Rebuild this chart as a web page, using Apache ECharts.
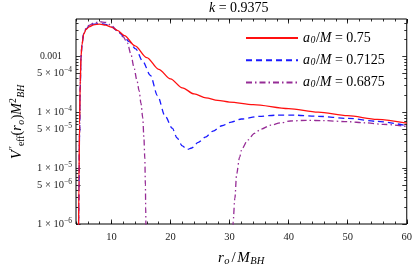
<!DOCTYPE html>
<html><head><meta charset="utf-8">
<script src="https://cdn.jsdelivr.net/npm/echarts@6/dist/echarts.min.js"></script>
<style>html,body{margin:0;padding:0;background:#fff}#c{width:415px;height:272px}</style>
</head><body><div id="c"></div>
<script>
// ---------- data ----------
const seriesNames = ['a0/M = 0.75', 'a0/M = 0.7125', 'a0/M = 0.6875'];
const legendValues = ['0.75', '0.7125', '0.6875'];
const seriesColors = ['#ff1010', '#1a1aff', '#962c96'];

const redData = [
  [4.42, 5e-7], [4.5, 6e-6], [4.6, 6e-5], [4.7, 3e-4], [4.85, 1.0e-3], [5.0, 1.6e-3],
  [5.3, 2.5e-3], [5.7, 3.05e-3], [6.2, 3.4e-3], [7, 3.7e-3], [8, 3.8e-3], [9, 3.65e-3],
  [10, 3.35e-3], [11, 2.95e-3], [12.2, 2.37e-3], [14, 1.55e-3], [16, 9.55e-4], [18, 5.9e-4],
  [20, 3.98e-4], [22, 2.75e-4], [24, 2.14e-4], [26, 1.82e-4], [28, 1.64e-4], [30, 1.53e-4],
  [34, 1.38e-4], [40, 1.17e-4], [45, 1.01e-4], [50, 8.7e-5], [55, 7.5e-5], [60, 6.4e-5]
];
const blueData = [
  [4.42, 5e-7], [4.5, 4e-6], [4.6, 4e-5], [4.7, 2.5e-4], [4.85, 9.5e-4], [5.0, 1.6e-3],
  [5.3, 2.5e-3], [5.7, 3.1e-3], [6.2, 3.5e-3], [7, 3.8e-3], [8, 3.9e-3], [9, 3.75e-3],
  [10, 3.4e-3], [11, 2.9e-3], [12, 2.35e-3], [13, 1.85e-3], [14.1, 1.37e-3], [15.3, 8.2e-4],
  [16.6, 4.6e-4], [17.8, 2.0e-4], [19.1, 8.5e-5], [20.3, 5.2e-5], [21.1, 3.5e-5], [22, 2.5e-5],
  [22.8, 2.16e-5], [23.6, 2.3e-5], [24.7, 2.9e-5], [25.9, 3.6e-5], [27.2, 4.6e-5], [28.7, 5.75e-5],
  [30.3, 6.7e-5], [32, 7.6e-5], [35, 8.5e-5], [38, 8.9e-5], [41, 8.9e-5], [45, 8.5e-5],
  [50, 7.8e-5], [55, 6.9e-5], [60, 5.75e-5]
];
const purpleData = [
  [4.42, 5e-7], [4.5, 4e-6], [4.6, 4e-5], [4.7, 2.5e-4], [4.85, 9.5e-4], [5.0, 1.6e-3],
  [5.3, 2.6e-3], [5.7, 3.2e-3], [6.2, 3.6e-3], [7, 4.0e-3], [8, 4.2e-3], [9, 4.1e-3],
  [10, 3.6e-3], [11, 2.9e-3], [12, 2.25e-3], [12.7, 1.75e-3], [13.3, 1.1e-3], [13.8, 6.5e-4],
  [14.3, 3.8e-4], [14.7, 2.4e-4], [15.0, 1.45e-4], [15.3, 8e-5], [15.5, 3.5e-5], [15.65, 1.5e-5],
  [15.75, 5e-6], [15.8, 2e-6], [15.85, 5e-7],
  [23, '-'],
  [30.55, 5e-7], [30.6, 1.1e-6], [30.9, 2.9e-6], [31.2, 8e-6], [31.7, 1.58e-5], [32.1, 2.24e-5],
  [33.1, 3.2e-5], [34.2, 4.2e-5], [35.3, 5e-5], [37, 5.9e-5], [38.7, 6.5e-5], [40.3, 7.0e-5],
  [43, 7.2e-5], [46, 7.1e-5], [50, 6.8e-5], [53, 6.5e-5], [56, 6.1e-5], [60, 5.6e-5]
];

const xRange = [4, 60];
const xTickValues = [10, 20, 30, 40, 50, 60];
const xMinorInterval = 2;
const yRange = [1e-6, 0.0047];
const yTickValues = [1e-6, 5e-6, 1e-5, 5e-5, 1e-4, 5e-4, 1e-3];
const yTickLabels = ['1 × 10{sup|−6}', '5 × 10{sup|−6}', '1 × 10{sup|−5}',
  '5 × 10{sup|−5}', '1 × 10{sup|−4}', '5 × 10{sup|−4}', '{p|0.001}'];
const yDecades = [1e-6, 1e-5, 1e-4, 1e-3];
const yMinorMultipliers = [2, 3, 4, 6, 7, 8, 9];

// ---------- helpers ----------
const FONT = "'Liberation Serif','DejaVu Serif',serif";
const L = Math.log10;
const yMinorTickValues = [];
yDecades.forEach(d => yMinorMultipliers.forEach(m => { if (d * m <= yRange[1]) yMinorTickValues.push(d * m); }));

const mathRich = (fs, lh) => ({
  i: { fontFamily: FONT, fontStyle: 'italic', fontSize: fs, lineHeight: lh, color: '#000' },
  sl: { fontFamily: FONT, fontSize: fs, lineHeight: lh, color: '#000', padding: [0, 1.5, 0, 1.5] },
  si: { fontFamily: FONT, fontStyle: 'italic', fontSize: fs * 0.7, lineHeight: fs * 0.7, verticalAlign: 'bottom', color: '#000', padding: [0, 0.5, 0, 0.5] },
  ss: { fontFamily: FONT, fontSize: fs * 0.7, lineHeight: fs * 0.7, verticalAlign: 'bottom', color: '#000' },
  sp: { fontFamily: FONT, fontSize: fs * 0.7, lineHeight: fs * 0.7, verticalAlign: 'top', color: '#000' }
});
const MFS = 14;

const tickLabelStyle = {
  fontFamily: FONT, fontSize: 10.5, color: '#222', lineHeight: 14,
  rich: {
    sup: { fontFamily: FONT, fontSize: 7.5, lineHeight: 7.5, verticalAlign: 'top', color: '#222' },
    p: { fontFamily: FONT, fontSize: 9.8, color: '#222', padding: [0, 10, 0, 0] }
  }
};

const xBase = (extra) => Object.assign({
  type: 'value', min: xRange[0], max: xRange[1],
  axisLine: { show: false }, splitLine: { show: false }
}, extra);

const yLogMin = L(yRange[0]), yLogMax = L(yRange[1]);
const yBase = (extra) => Object.assign({
  type: 'value', min: yLogMin, max: yLogMax,
  axisLine: { show: false }, splitLine: { show: false }
}, extra);

const tickStyle = { color: '#000', width: 0.8 };

function yLabelFor(v) {
  let best = 0, bd = 1e9;
  yTickValues.forEach((t, i) => { const d = Math.abs(L(t) - v); if (d < bd) { bd = d; best = i; } });
  return yTickLabels[best];
}

const lineTypes = ['solid', [6, 4], [6, 3, 1.5, 3]];
const allData = [redData, blueData, purpleData];

const chart = echarts.init(document.getElementById('c'), null, { renderer: 'canvas' });
chart.setOption({
  animation: false,
  backgroundColor: '#fff',
  title: {
    text: '{i|k} = 0.9375', left: 209, top: 0, padding: 0,
    textStyle: { fontFamily: FONT, fontSize: MFS, fontWeight: 'normal', color: '#000', lineHeight: 16, rich: mathRich(MFS, 16) }
  },
  grid: { left: 72, right: 7, top: 19, bottom: 46, show: true, borderColor: '#000', borderWidth: 1, backgroundColor: 'transparent' },
  legend: {
    orient: 'vertical', left: 245, top: 31, padding: 0, itemWidth: 52, itemHeight: 14, itemGap: 8.3,
    data: seriesNames,
    itemStyle: { opacity: 0 },
    lineStyle: { opacity: 1 },
    formatter: (name) => '{i|a}{si|0}/{i|M} = ' + legendValues[seriesNames.indexOf(name)],
    textStyle: { fontFamily: FONT, fontSize: MFS, color: '#000', lineHeight: 14, rich: mathRich(MFS, 14) }
  },
  xAxis: [
    xBase({
      position: 'bottom',
      axisTick: { show: true, inside: true, length: 4.5, customValues: xTickValues, lineStyle: tickStyle },
      axisLabel: Object.assign({ customValues: xTickValues, margin: 6 }, tickLabelStyle),
      name: '{i|r}{si|o}{sl|/}{i|M}{si|BH}', nameLocation: 'middle', nameGap: 26,
      nameTextStyle: { fontFamily: FONT, fontSize: 15, color: '#000', lineHeight: 17, rich: mathRich(15, 17) }
    }),
    xBase({ position: 'bottom', interval: xMinorInterval, axisTick: { inside: true, length: 2.5, lineStyle: tickStyle }, axisLabel: { show: false } }),
    xBase({ position: 'top', axisTick: { show: true, inside: true, length: 4.5, customValues: xTickValues, lineStyle: tickStyle }, axisLabel: { show: false } }),
    xBase({ position: 'top', interval: xMinorInterval, axisTick: { inside: true, length: 2.5, lineStyle: tickStyle }, axisLabel: { show: false } })
  ],
  yAxis: [
    { type: 'log', logBase: 10, min: yRange[0], max: yRange[1], show: false },
    yBase({
      position: 'left',
      axisTick: { show: true, inside: true, length: 4.5, customValues: yTickValues.map(L), lineStyle: tickStyle },
      axisLabel: Object.assign({ customValues: yTickValues.map(L), margin: 4, formatter: yLabelFor }, tickLabelStyle),
      name: '{i|V}{sp|′′}{ss|eff}({i|r}{si|o}){i|M}{sp|2}{si|BH}', nameLocation: 'middle', nameGap: 50, nameRotate: 90,
      nameTextStyle: { fontFamily: FONT, fontSize: MFS, color: '#000', lineHeight: 18, rich: mathRich(MFS, 18) }
    }),
    yBase({ position: 'left', axisTick: { show: true, inside: true, length: 2.5, customValues: yMinorTickValues.map(L), lineStyle: tickStyle }, axisLabel: { show: false } }),
    yBase({ position: 'right', axisTick: { show: true, inside: true, length: 4.5, customValues: yTickValues.map(L), lineStyle: tickStyle }, axisLabel: { show: false } }),
    yBase({ position: 'right', axisTick: { show: true, inside: true, length: 2.5, customValues: yMinorTickValues.map(L), lineStyle: tickStyle }, axisLabel: { show: false } })
  ],
  series: seriesNames.map((name, i) => ({
    name, type: 'line', xAxisIndex: 0, yAxisIndex: 0,
    data: allData[i], showSymbol: false, symbol: 'none',
    smooth: 0.3, smoothMonotone: 'x', connectNulls: false, clip: true,
    lineStyle: { color: seriesColors[i], width: 1.3, type: lineTypes[i] },
    itemStyle: { color: seriesColors[i] },
    z: 3 - i
  }))
});
</script></body></html>
